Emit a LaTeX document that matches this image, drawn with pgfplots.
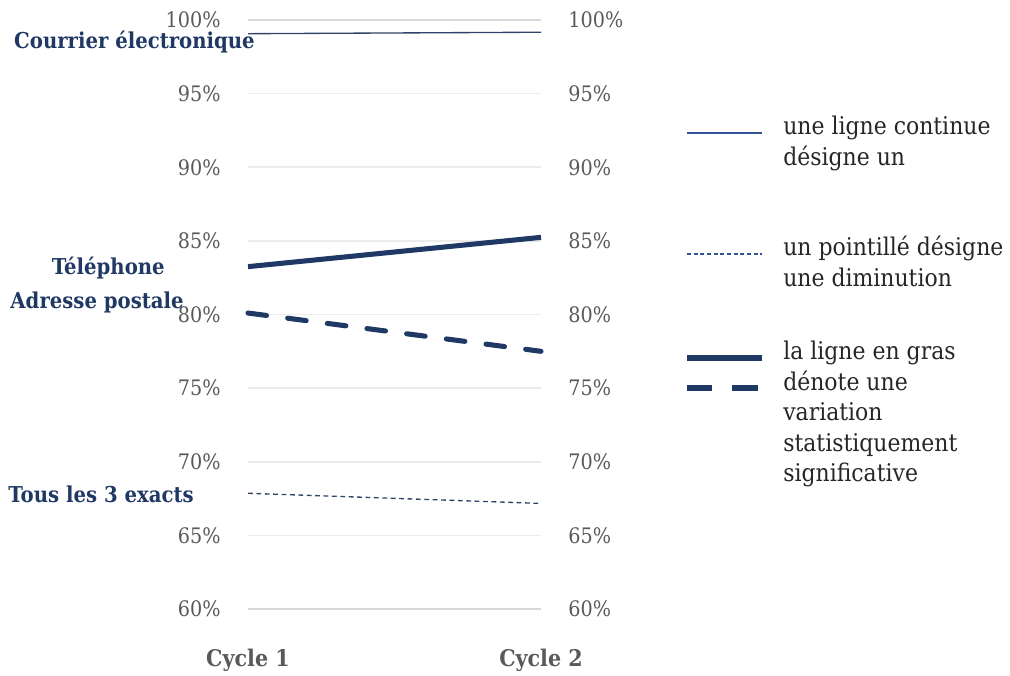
\documentclass[border=0pt]{standalone}
\usepackage{pgfplots}
\pgfplotsset{compat=1.18}
\usepackage{fontspec}
\setmainfont[FakeStretch=0.9]{DejaVu Serif}
\definecolor{navy}{RGB}{31,56,100}
\definecolor{thinnavy}{RGB}{47,68,104}
\definecolor{legblue}{RGB}{47,85,151}
\definecolor{labcol}{RGB}{31,56,100}
\definecolor{tickgray}{RGB}{89,89,89}
\definecolor{gridc}{RGB}{236,236,236}
\definecolor{gridd}{RGB}{217,217,217}
\begin{document}
\begin{tikzpicture}[x=0.75pt,y=-0.75pt]
\useasboundingbox (0,0) rectangle (1010,675);
\begin{axis}[
  at={(186pt,-456.75pt)}, anchor=south west,
  scale only axis, width=219.75pt, height=441.75pt,
  xmin=0, xmax=1, ymin=60, ymax=100,
  axis line style={draw=none},
  xtick=\empty,
  ytick={60,65,...,100},
  major tick length=0pt,
  ymajorgrids, grid style={gridc, line width=1.2pt},
  extra y ticks={60,100}, extra y tick style={grid style={gridd,line width=1.4pt}, yticklabels={}},
  yticklabel={\pgfmathprintnumber{\tick}\%},
  yticklabel style={font=\fontsize{16}{18}\selectfont, text=tickgray, xshift=-17pt},
  /pgf/number format/assume math mode=true,
  clip=false,
]
\addplot[thinnavy, line width=1pt] coordinates {(0,99.07) (1,99.17)};
\addplot[navy, line width=3.8pt] coordinates {(0,83.25) (1,85.24)};
\addplot[navy, line width=3.8pt, dash pattern=on 14pt off 16pt, line cap=round] coordinates {(0,80.1) (1,77.5)};
\addplot[thinnavy, line width=1pt, dash pattern=on 3.6pt off 2.7pt] coordinates {(0,67.86) (1,67.17)};
\end{axis}
\begin{axis}[
  at={(186pt,-456.75pt)}, anchor=south west,
  scale only axis, width=219.75pt, height=441.75pt,
  xmin=0, xmax=1, ymin=60, ymax=100,
  axis line style={draw=none},
  xtick=\empty,
  ytick={60,65,...,100},
  major tick length=0pt,
  yticklabel pos=right,
  yticklabel={\pgfmathprintnumber{\tick}\%},
  yticklabel style={font=\fontsize{16}{18}\selectfont, text=tickgray, xshift=17pt},
  /pgf/number format/assume math mode=true,
]
\addplot[draw=none] coordinates {(0,60) (1,60)};
\end{axis}
% series labels
\begin{scope}[font=\fontsize{16.4}{19}\selectfont\bfseries, text=labcol]
\node[anchor=east, inner sep=0pt] at (255,42) {Courrier électronique};
\node[anchor=east, inner sep=0pt] at (165,268) {Téléphone};
\node[anchor=east, inner sep=0pt] at (184,302) {Adresse postale};
\node[anchor=east, inner sep=0pt] at (194,494) {Tous les 3 exacts};
\end{scope}
% x category labels
\begin{scope}[font=\fontsize{17.2}{20}\selectfont\bfseries, text=tickgray]
\node[inner sep=0pt] at (248,660) {Cycle 1};
\node[inner sep=0pt] at (541,660) {Cycle 2};
\end{scope}
% legend
\draw[legblue, line width=0.9pt] (687,133) -- (762,133);
\draw[legblue, line width=0.9pt, dash pattern=on 3pt off 2pt] (687,254) -- (762,254);
\draw[navy, line width=3.8pt] (687,358) -- (762,358);
\draw[navy, line width=3.8pt, dash pattern=on 19pt off 15pt] (687,388) -- (762,388);
\begin{scope}[font=\fontsize{18.3}{22.9}\selectfont, text=black!85]
\node[anchor=north west, inner sep=0pt, align=left] at (783,116) {une ligne continue\\désigne un};
\node[anchor=north west, inner sep=0pt, align=left] at (783,236) {un pointillé désigne\\une diminution};
\node[anchor=north west, inner sep=0pt, align=left] at (783,341) {la ligne en gras\\dénote une\\variation\\statistiquement\\significative};
\end{scope}
\end{tikzpicture}
\end{document}
